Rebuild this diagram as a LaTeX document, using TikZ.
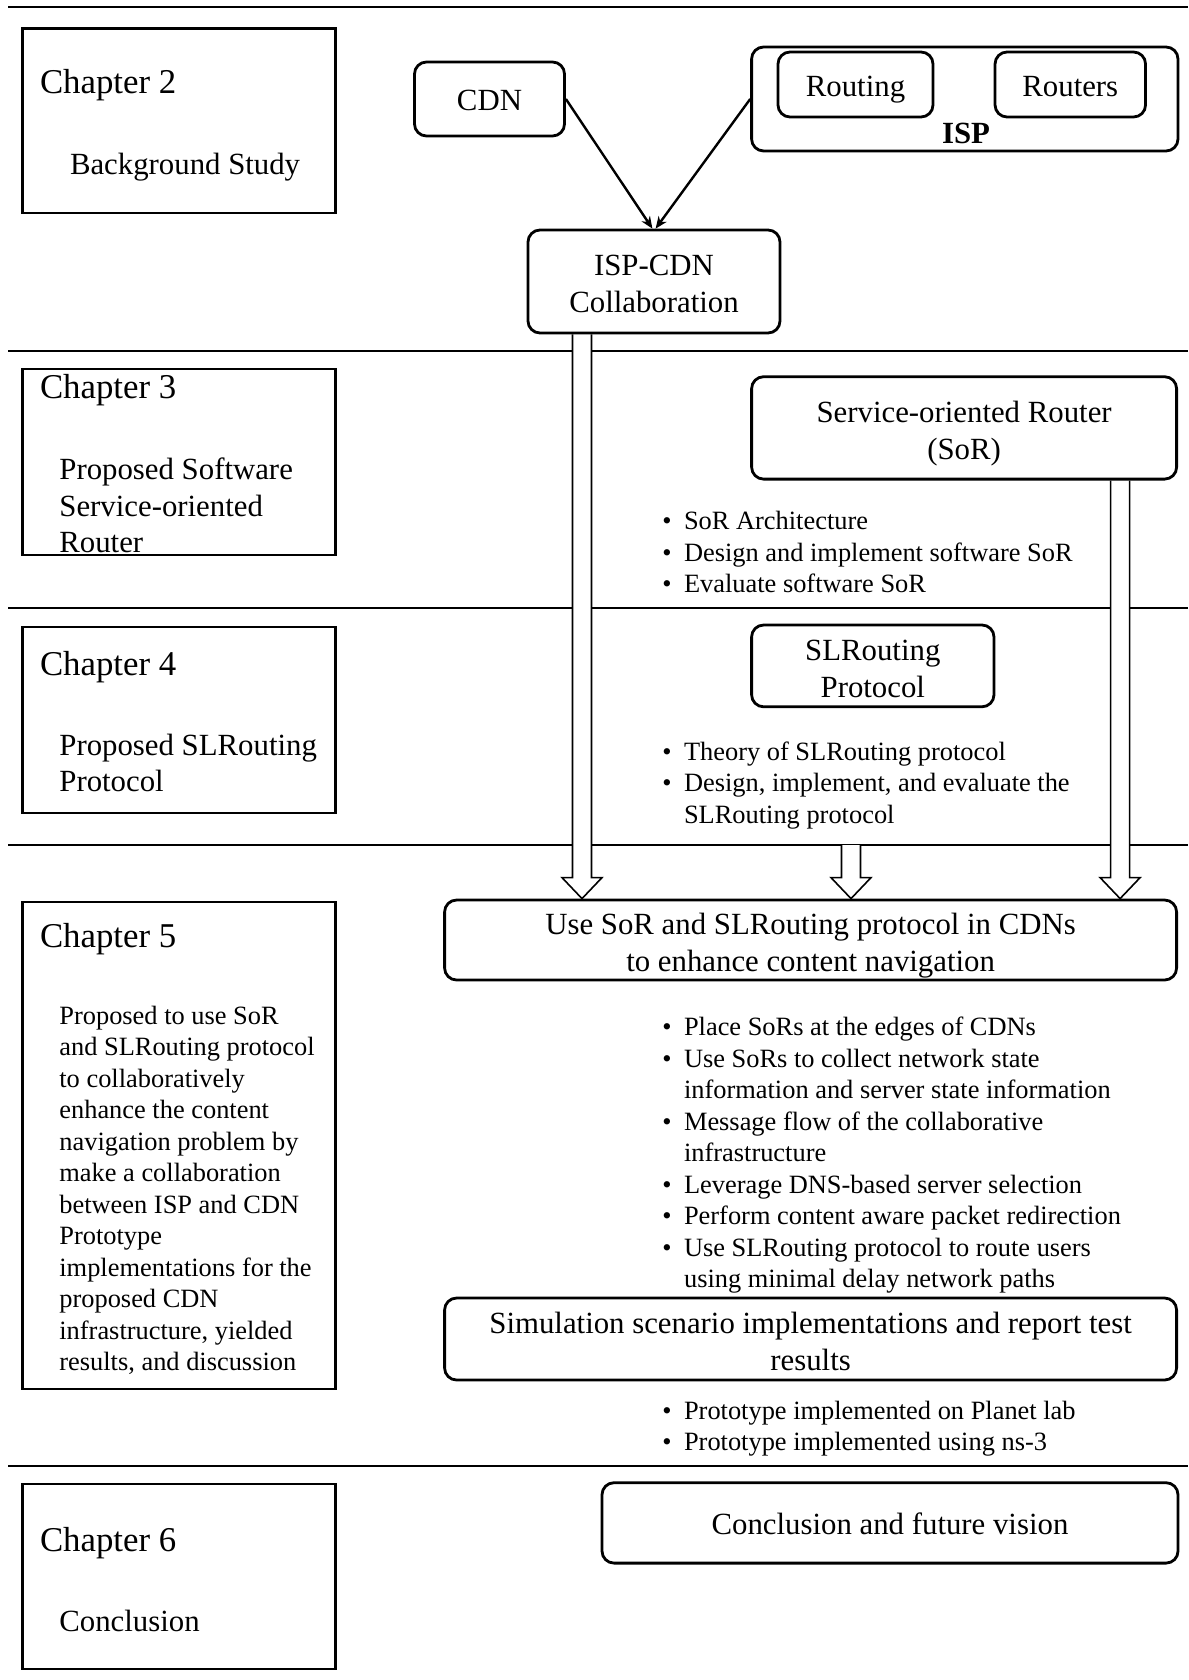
\documentclass[tikz,border=0pt]{standalone}
\usepackage{fontspec}
\setmainfont{Liberation Serif}
\usetikzlibrary{arrows.meta}
\usetikzlibrary{backgrounds}
\usetikzlibrary{calc}

\begin{document}
\begin{tikzpicture}[x=0.5pt,y=-0.5pt,
  chapbox/.style={draw,line width=1.4pt,minimum width=156.5pt,inner sep=0pt},
  chaphead/.style={anchor=west,inner sep=0pt,font=\fontsize{17.4}{20}\selectfont},
  chaptext/.style={anchor=west,inner sep=0pt,font=\fontsize{15.4}{18.25}\selectfont},
  rbox/.style={draw,line width=1.4pt,rounded corners=6pt,inner sep=0pt,align=center,
    font=\fontsize{15.4}{18.5}\selectfont,text height=14.5pt,text depth=2.5pt},
  tworow/.style={text height=33.8pt},
  bullets/.style={anchor=west,inner sep=0pt,font=\fontsize{13.2}{15.75}\selectfont},
  hollow/.style={draw,fill=white,line width=0.8pt},
  link/.style={-{Stealth[length=6pt,width=5pt]},line width=1.2pt}]
  \useasboundingbox (0,0) rectangle (1188,1680);

  % chapters on the left
  \foreach \n/\cy/\bh/\hy in {2/120.7/92.3/85.5, 3/462/93/390.5, 4/720/93/667.5,
      5/1145.5/243.5/939.5, 6/1576.5/92.5/1543}{
    \node[chapbox,minimum height=\bh pt] (ch\n) at (179.15,\cy) {};
    \node[chaphead] (head\n) at (39.6,\hy) {Chapter \n};
  }
  \node[chaptext] (body2) at (69.6,167) {Background Study};
  \node[chaptext] (body3) at (59,509) {\begin{tabular}{@{}l@{}}Proposed Software\\
    Service-oriented\\Router\end{tabular}};
  \node[chaptext] (body4) at (59,766) {\begin{tabular}{@{}l@{}}Proposed SLRouting\\
    Protocol\end{tabular}};
  \node[bullets] (body5) at (59,1191) {\begin{tabular}{@{}l@{}}Proposed to use SoR\\
    and SLRouting protocol\\to collaboratively\\enhance the content\\
    navigation problem by\\make a collaboration\\between ISP and CDN\\Prototype\\
    implementations for the\\proposed CDN\\infrastructure, yielded\\
    results, and discussion\end{tabular}};
  \node[chaptext] (body6) at (59,1621) {Conclusion};

  % right column
  \node[rbox,minimum width=75pt,minimum height=37pt] (cdn) at (489.5,99) {CDN};
  \node[rbox,minimum width=213.2pt,minimum height=52pt] (isp) at (964.8,99) {};
  \node[rbox,minimum width=77.5pt,minimum height=32.5pt] (routing) at (855.5,84.5) {Routing};
  \node[rbox,minimum width=75.25pt,minimum height=32.5pt] (routers) at (1070.3,84.5) {Routers};
  \node[inner sep=0pt,font=\fontsize{15.4}{18}\selectfont\bfseries] (isplabel) at (966,133.5) {ISP};
  \node[rbox,tworow,minimum width=126pt,minimum height=51.5pt] (collab) at (654,281.5)
    {ISP-CDN\\Collaboration};

  \node[rbox,tworow,minimum width=212.5pt,minimum height=51.2pt] (sor) at (964.1,427.9)
    {Service-oriented Router\\(SoR)};
  \node[bullets] (sorlist) at (662,555) {\begin{tabular}{@{}l@{\hspace{6.2pt}}l@{}}
    \textbullet & SoR Architecture\\
    \textbullet & Design and implement software SoR\\
    \textbullet & Evaluate software SoR\end{tabular}};

  \node[rbox,tworow,minimum width=121.2pt,minimum height=40.9pt] (slr) at (872.8,665.9)
    {SLRouting\\Protocol};
  \node[bullets] (slrlist) at (662,785.5) {\begin{tabular}{@{}l@{\hspace{6.2pt}}l@{}}
    \textbullet & Theory of SLRouting protocol\\
    \textbullet & Design, implement, and evaluate the\\
     & SLRouting protocol\end{tabular}};

  \node[rbox,tworow,minimum width=366pt,minimum height=40pt] (use) at (810.6,940)
    {Use SoR and SLRouting protocol in CDNs\\to enhance content navigation};
  \node[bullets] (uselist) at (662,1155.5) {\begin{tabular}{@{}l@{\hspace{6.2pt}}l@{}}
    \textbullet & Place SoRs at the edges of CDNs\\
    \textbullet & Use SoRs to collect network state\\
     & information and server state information\\
    \textbullet & Message flow of the collaborative\\
     & infrastructure\\
    \textbullet & Leverage DNS-based server selection\\
    \textbullet & Perform content aware packet redirection\\
    \textbullet & Use SLRouting protocol to route users\\
     & using minimal delay network paths\end{tabular}};

  \node[rbox,tworow,minimum width=366pt,minimum height=41pt] (sim) at (810.6,1339)
    {Simulation scenario implementations and report test\\results};
  \node[bullets] (simlist) at (662,1428.5) {\begin{tabular}{@{}l@{\hspace{6.2pt}}l@{}}
    \textbullet & Prototype implemented on Planet lab\\
    \textbullet & Prototype implemented using ns-3\end{tabular}};

  \node[rbox,minimum width=288pt,minimum height=40.2pt] (concl) at (890,1522.9)
    {Conclusion and future vision};

  \draw[link] (cdn.east) -- ([xshift=-0.8pt]collab.north);
  \draw[link] (isp.west) -- ([xshift=0.8pt]collab.north);

  \coordinate (collabout) at ($(collab.south)+(-72,0)$);
  \coordinate (slrout) at (851,845);
  \coordinate (sorout) at ($(sor.south)+(156,0)$);
  \coordinate (usein1) at (collabout |- use.north);
  \coordinate (usein2) at (slrout |- use.north);
  \coordinate (usein3) at (sorout |- use.north);

  \begin{scope}[on background layer]
    \foreach \y in {7.3,350.7,607.7,845,1465.7}
      \draw[line width=1pt] (8,\y) -- (1188,\y);
    \foreach \src/\dst in {collabout/usein1, slrout/usein2, sorout/usein3}
      \draw[hollow] ($(\src)+(-9.5,0)$) -- ($(\dst)+(-9.5,-21)$) -- ($(\dst)+(-20,-21)$)
        -- (\dst) -- ($(\dst)+(20,-21)$) -- ($(\dst)+(9.5,-21)$) -- ($(\src)+(9.5,0)$);
  \end{scope}
\end{tikzpicture}
\end{document}
